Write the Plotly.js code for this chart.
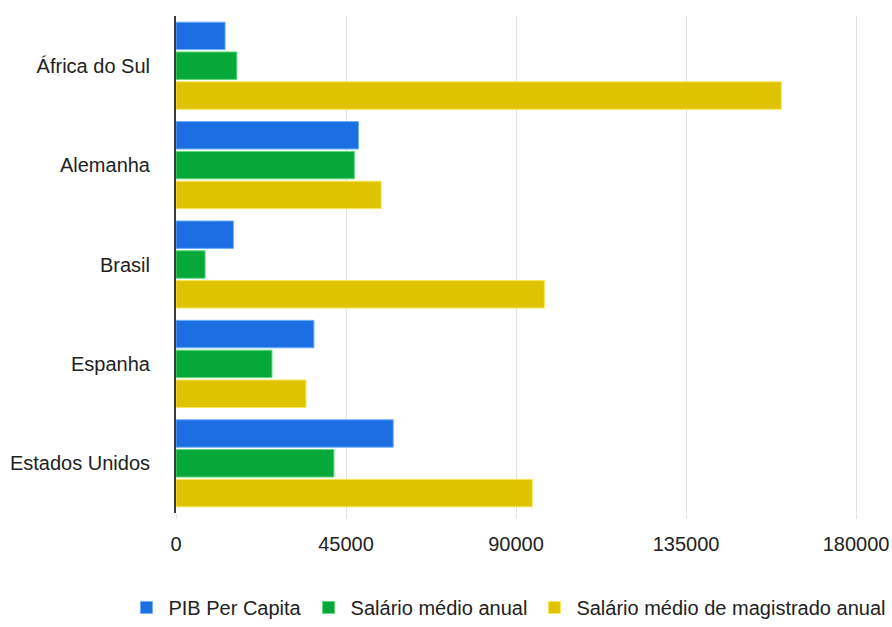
<!DOCTYPE html>
<html>
<head>
<meta charset="utf-8">
<script src="https://cdn.plot.ly/plotly-3.0.1.min.js"></script>
<style>html,body{margin:0;padding:0;background:#fff}#chart{width:892px;height:627px}</style>
</head>
<body>
<div id="chart"></div>
<script>
const categories = ["África do Sul", "Alemanha", "Brasil", "Espanha", "Estados Unidos"];
const seriesNames = ["PIB Per Capita", "Salário médio anual", "Salário médio de magistrado anual"];
const pibPerCapita = [13000, 48300, 15200, 36500, 57500];
const salarioMedio = [16100, 47200, 7700, 25400, 41800];
const salarioMagistrado = [160200, 54300, 97500, 34400, 94300];
const xTicks = [0, 45000, 90000, 135000, 180000];

const colors = ["#1b6fe2", "#06a838", "#e0c300"];
const borders = ["#6fb0ff", "#5fd67a", "#f7e65a"];
const values = [pibPerCapita, salarioMedio, salarioMagistrado];

const traces = values.map((v, i) => ({
  type: "bar",
  orientation: "h",
  name: seriesNames[i],
  y: categories,
  x: v,
  marker: {color: colors[i], line: {color: borders[i], width: 1}},
  hoverinfo: "x+name"
}));

const font = {family: "Liberation Sans, Arial, sans-serif", size: 20, color: "#222"};

const layout = {
  width: 892, height: 627,
  margin: {l: 176, r: 0, t: 16, b: 106},
  paper_bgcolor: "#fff", plot_bgcolor: "#fff",
  font: font,
  barmode: "group",
  bargap: 0.1,
  bargroupgap: 0.08,
  showlegend: true,
  legend: {
    orientation: "h", x: -0.072, xanchor: "left", y: -0.19, yanchor: "middle",
    font: font, itemwidth: 34, traceorder: "normal"
  },
  xaxis: {
    range: [0, 189500],
    tickvals: xTicks,
    ticktext: xTicks.map(String),
    showgrid: true, gridcolor: "#e2e2e2", gridwidth: 1,
    zeroline: false, showline: false,
    ticks: "outside", ticklen: 5, tickcolor: "#e2e2e2",
    ticklabelstandoff: 8,
    tickfont: font
  },
  yaxis: {
    autorange: "reversed",
    showline: true, linecolor: "#3a3a3a", linewidth: 2,
    showgrid: false, zeroline: false,
    ticks: "", ticklabelstandoff: 20,
    tickfont: font
  }
};

Plotly.newPlot("chart", traces, layout, {displayModeBar: false, staticPlot: true});
</script>
</body>
</html>
